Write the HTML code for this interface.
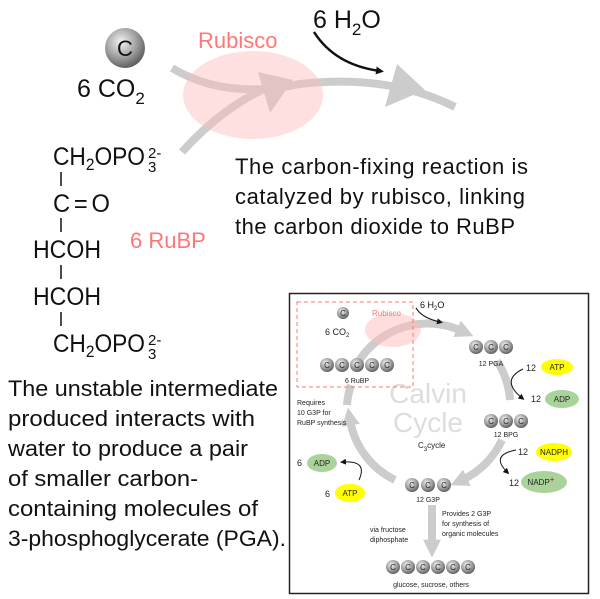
<!DOCTYPE html>
<html><head><meta charset="utf-8"><style>
html,body{margin:0;padding:0;background:#fff;}
svg{display:block;font-family:"Liberation Sans",sans-serif;}
</style></head><body>
<svg width="600" height="599" viewBox="0 0 600 599" xmlns="http://www.w3.org/2000/svg">
<defs>
<radialGradient id="ball" cx="0.4" cy="0.35" r="0.7">
<stop offset="0" stop-color="#f4f4f4"/><stop offset="0.6" stop-color="#999"/><stop offset="1" stop-color="#555"/>
</radialGradient>
<marker id="ah" viewBox="0 0 10 10" refX="5" refY="5" markerWidth="8" markerHeight="8" orient="auto" markerUnits="userSpaceOnUse"><path d="M0,0L10,5L0,10z" fill="#111"/></marker>
<marker id="ahs" viewBox="0 0 10 10" refX="5" refY="5" markerWidth="6" markerHeight="6" orient="auto" markerUnits="userSpaceOnUse"><path d="M0,0L10,5L0,10z" fill="#111"/></marker>
<marker id="gh" viewBox="0 0 10 10" refX="3" refY="5" markerWidth="18" markerHeight="18" orient="auto" markerUnits="userSpaceOnUse"><path d="M0,0L10,5L0,10z" fill="#ccc"/></marker>
</defs>

<!-- top reaction -->
<path d="M172,68 Q225,100 300,84 Q390,74 455,107" fill="none" stroke="#ccc" stroke-width="8"/>
<polygon points="397,64 425,90 385,107" fill="#ccc"/>
<path d="M182,152 Q220,110 262,90" fill="none" stroke="#ccc" stroke-width="8"/>
<polygon points="258,72 293,80 270,113" fill="#ccc"/>
<ellipse cx="253" cy="95" rx="70" ry="44" fill="#fbb" opacity="0.45"/>
<text x="198" y="48" font-size="22" fill="#f77">Rubisco</text>
<circle cx="125" cy="48" r="20" fill="url(#ball)"/>
<text x="125" y="56" font-size="22" text-anchor="middle" fill="#111">C</text>
<text x="77" y="97" font-size="25" fill="#111">6 CO<tspan font-size="17" dy="7">2</tspan></text>
<text x="313" y="28" font-size="25" fill="#111">6 H<tspan font-size="17" dy="7">2</tspan><tspan dy="-7">O</tspan></text>
<path d="M314,32 Q335,65 380,71" fill="none" stroke="#111" stroke-width="2.5" marker-end="url(#ah)"/>

<g font-size="22" fill="#111">
<text x="235" y="174" textLength="293">The carbon-fixing reaction is</text>
<text x="235" y="204" textLength="290">catalyzed by rubisco, linking</text>
<text x="235" y="234" textLength="280">the carbon dioxide to RuBP</text>
</g>

<!-- formula -->
<g font-size="25" fill="#111">
<text x="53" y="165" textLength="92" lengthAdjust="spacingAndGlyphs">CH<tspan font-size="17" dy="5">2</tspan><tspan dy="-5">OPO</tspan></text>
<text x="148" y="158" font-size="15">2-</text><text x="148" y="172" font-size="15">3</text>
<text x="53" y="212" textLength="57" lengthAdjust="spacingAndGlyphs">C<tspan dx="4">=</tspan><tspan dx="4">O</tspan></text>
<text x="33" y="258" textLength="68" lengthAdjust="spacingAndGlyphs">HCOH</text>
<text x="33" y="305" textLength="68" lengthAdjust="spacingAndGlyphs">HCOH</text>
<text x="53" y="352" textLength="92" lengthAdjust="spacingAndGlyphs">CH<tspan font-size="17" dy="5">2</tspan><tspan dy="-5">OPO</tspan></text>
<text x="148" y="345" font-size="15">2-</text><text x="148" y="359" font-size="15">3</text>
</g>
<g stroke="#111" stroke-width="1.5">
<line x1="61" y1="172" x2="61" y2="186"/><line x1="61" y1="218" x2="61" y2="232"/>
<line x1="61" y1="265" x2="61" y2="279"/><line x1="61" y1="312" x2="61" y2="326"/>
</g>
<text x="130" y="248" font-size="22" fill="#f77">6 RuBP</text>

<g font-size="22" fill="#111">
<text x="8" y="396" textLength="270" lengthAdjust="spacingAndGlyphs">The unstable intermediate</text>
<text x="8" y="426" textLength="247" lengthAdjust="spacingAndGlyphs">produced interacts with</text>
<text x="8" y="456" textLength="240" lengthAdjust="spacingAndGlyphs">water to produce a pair</text>
<text x="8" y="486" textLength="190" lengthAdjust="spacingAndGlyphs">of smaller carbon-</text>
<text x="8" y="516" textLength="250" lengthAdjust="spacingAndGlyphs">containing molecules of</text>
<text x="8" y="546" textLength="278" lengthAdjust="spacingAndGlyphs">3-phosphoglycerate (PGA).</text>
</g>

<!-- inset box -->
<rect x="289.5" y="293.5" width="299" height="300" fill="#fff" stroke="#222" stroke-width="1.5"/>
<g fill="none" stroke="#ccc" stroke-width="8">
<path d="M357,364 A82,82 0 0 1 462,331" marker-end="url(#gh)"/>
<path d="M497,361 A82,82 0 0 1 510,400"/>
<path d="M502,440 A82,82 0 0 1 462,480" marker-end="url(#gh)"/>
<path d="M395,480 A82,82 0 0 1 350,420" marker-end="url(#gh)"/>
<path d="M347,405 A82,82 0 0 1 351,385"/>
<path d="M432,505 L432,545" marker-end="url(#gh)"/>
</g>
<text x="428" y="403" font-size="28" fill="#ddd" text-anchor="middle">Calvin</text>
<text x="428" y="432" font-size="28" fill="#ddd" text-anchor="middle">Cycle</text>
<text x="418" y="448" font-size="8" fill="#222">C<tspan font-size="6" dy="3">3</tspan><tspan dy="-3">cycle</tspan></text>

<ellipse cx="393" cy="330" rx="28" ry="17" fill="#fbb" opacity="0.5"/>
<rect x="297" y="302" width="116" height="85" fill="none" stroke="#f77" stroke-width="1" stroke-dasharray="4,3"/>
<text x="372" y="316" font-size="8" fill="#f77">Rubisco</text>
<text x="420" y="308" font-size="9" fill="#111">6 H<tspan font-size="6" dy="2">2</tspan><tspan dy="-2">O</tspan></text>
<path d="M416,308 Q422,318 440,322" fill="none" stroke="#111" stroke-width="1.2" marker-end="url(#ahs)"/>

<g font-size="8" fill="#222">
<circle cx="343" cy="313" r="6" fill="url(#ball)"/><text x="343" y="316" text-anchor="middle">C</text>
<text x="325" y="335" font-size="9">6 CO<tspan font-size="6" dy="2">2</tspan></text>
<g>
<circle cx="327" cy="365" r="7" fill="url(#ball)"/><circle cx="342" cy="365" r="7" fill="url(#ball)"/><circle cx="357" cy="365" r="7" fill="url(#ball)"/><circle cx="372" cy="365" r="7" fill="url(#ball)"/><circle cx="387" cy="365" r="7" fill="url(#ball)"/>
<text x="327" y="368" text-anchor="middle">C</text><text x="342" y="368" text-anchor="middle">C</text><text x="357" y="368" text-anchor="middle">C</text><text x="372" y="368" text-anchor="middle">C</text><text x="387" y="368" text-anchor="middle">C</text>
</g>
<text x="357" y="383" text-anchor="middle" font-size="7">6 RuBP</text>

<circle cx="476" cy="347" r="7" fill="url(#ball)"/><circle cx="491" cy="347" r="7" fill="url(#ball)"/><circle cx="506" cy="347" r="7" fill="url(#ball)"/>
<text x="476" y="350" text-anchor="middle">C</text><text x="491" y="350" text-anchor="middle">C</text><text x="506" y="350" text-anchor="middle">C</text>
<text x="491" y="366" text-anchor="middle" font-size="7">12 PGA</text>

<circle cx="491" cy="421" r="7" fill="url(#ball)"/><circle cx="506" cy="421" r="7" fill="url(#ball)"/><circle cx="521" cy="421" r="7" fill="url(#ball)"/>
<text x="491" y="424" text-anchor="middle">C</text><text x="506" y="424" text-anchor="middle">C</text><text x="521" y="424" text-anchor="middle">C</text>
<text x="506" y="437" text-anchor="middle" font-size="7">12 BPG</text>

<circle cx="412" cy="485" r="7" fill="url(#ball)"/><circle cx="428" cy="485" r="7" fill="url(#ball)"/><circle cx="444" cy="485" r="7" fill="url(#ball)"/>
<text x="412" y="488" text-anchor="middle">C</text><text x="428" y="488" text-anchor="middle">C</text><text x="444" y="488" text-anchor="middle">C</text>
<text x="428" y="502" text-anchor="middle" font-size="7">12 G3P</text>

<g>
<circle cx="393" cy="567" r="7" fill="url(#ball)"/><circle cx="408" cy="567" r="7" fill="url(#ball)"/><circle cx="423" cy="567" r="7" fill="url(#ball)"/><circle cx="438" cy="567" r="7" fill="url(#ball)"/><circle cx="453" cy="567" r="7" fill="url(#ball)"/><circle cx="468" cy="567" r="7" fill="url(#ball)"/>
<text x="393" y="570" text-anchor="middle">C</text><text x="408" y="570" text-anchor="middle">C</text><text x="423" y="570" text-anchor="middle">C</text><text x="438" y="570" text-anchor="middle">C</text><text x="453" y="570" text-anchor="middle">C</text><text x="468" y="570" text-anchor="middle">C</text>
</g>
<text x="431" y="587" text-anchor="middle" font-size="7">glucose, sucrose, others</text>

<text x="297" y="405" font-size="7">Requires</text>
<text x="297" y="415" font-size="7">10 G3P for</text>
<text x="297" y="425" font-size="7">RuBP synthesis</text>
<text x="442" y="516" font-size="7">Provides 2 G3P</text>
<text x="442" y="526" font-size="7">for synthesis of</text>
<text x="442" y="536" font-size="7">organic molecules</text>
<text x="370" y="532" font-size="7">via fructose</text>
<text x="370" y="542" font-size="7">diphosphate</text>

<ellipse cx="557" cy="367" rx="16" ry="8" fill="#ff0"/><text x="557" y="370" text-anchor="middle">ATP</text>
<text x="526" y="371" font-size="9">12</text>
<ellipse cx="562" cy="399" rx="17" ry="9" fill="#a9d39a"/><text x="562" y="402" text-anchor="middle">ADP</text>
<text x="531" y="402" font-size="9">12</text>
<path d="M523,369 Q500,380 522,398" fill="none" stroke="#111" stroke-width="1" marker-end="url(#ahs)"/>

<ellipse cx="554" cy="452" rx="18" ry="9" fill="#ff0"/><text x="554" y="455" text-anchor="middle">NADPH</text>
<text x="518" y="455" font-size="9">12</text>
<ellipse cx="544" cy="482" rx="23" ry="11" fill="#a9d39a"/><text x="541" y="485" text-anchor="middle">NADP<tspan fill="#e00" dy="-3">+</tspan></text>
<text x="509" y="486" font-size="9">12</text>
<path d="M516,450 Q490,455 507,472" fill="none" stroke="#111" stroke-width="1" marker-end="url(#ahs)"/>

<ellipse cx="322" cy="463" rx="15" ry="9" fill="#a9d39a"/><text x="322" y="466" text-anchor="middle">ADP</text>
<text x="297" y="466" font-size="9">6</text>
<ellipse cx="350" cy="493" rx="15" ry="9" fill="#ff0"/><text x="350" y="496" text-anchor="middle">ATP</text>
<text x="325" y="497" font-size="9">6</text>
<path d="M359,480 Q368,460 343,462" fill="none" stroke="#111" stroke-width="1" marker-end="url(#ahs)"/>
</g>
</svg>
</body></html>
